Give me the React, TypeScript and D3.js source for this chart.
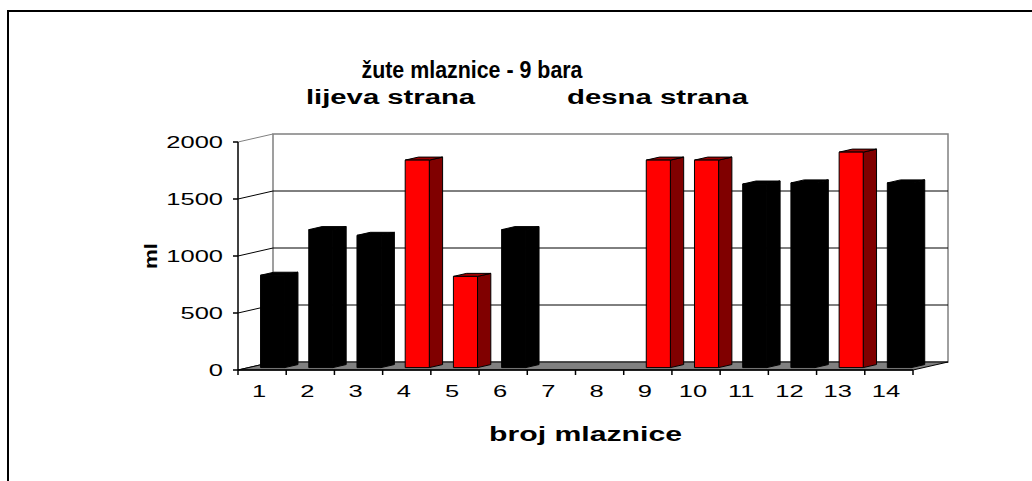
import React from "react";
import * as d3 from "d3";

const categories = ["1", "2", "3", "4", "5", "6", "7", "8", "9", "10", "11", "12", "13", "14"];
const values = [810, 1210, 1160, 1820, 800, 1210, 0, 0, 1820, 1820, 1610, 1620, 1890, 1620];
const highlighted = [false, false, false, true, true, false, false, false, true, true, false, false, true, false];
const yTicks = [0, 500, 1000, 1500, 2000];

const titleLine1 = "žute mlaznice - 9 bara";
const titleLeft = "lijeva strana";
const titleRight = "desna strana";
const xTitle = "broj mlaznice";
const yTitle = "ml";

const W = 1032;
const H = 481;

// front plane of the plot + depth offset of the back wall
const plot = { left: 238, right: 913, top: 142, bottom: 370 };
const depth = { dx: 35, dy: -8 };
const barDepth = [0.3, 0.68];

const font = "'Liberation Sans', Arial, sans-serif";

function StretchText(props: any) {
  const { x, y, sx = 1.5, anchor = "middle", size = 17, bold = false, children } = props;
  return (
    <text
      transform={`translate(${x},${y}) scale(${sx},1)`}
      textAnchor={anchor}
      fontFamily={font}
      fontSize={size}
      fontWeight={bold ? "bold" : "normal"}
      fill="#000"
    >
      {children}
    </text>
  );
}

function Bar(props: any) {
  const { x0, x1, yTop, yBase, red } = props;
  const [d0, d1] = barDepth;
  const ox = depth.dx * d0, oy = depth.dy * d0;
  const bx = depth.dx * (d1 - d0), by = depth.dy * (d1 - d0);
  const fx0 = x0 + ox, fx1 = x1 + ox;
  const ft = yTop + oy, fb = yBase + oy;
  const front = red ? "#ff0000" : "#000";
  const side = red ? "#800000" : "#000";
  const top = red ? "#a00000" : "#000";
  return (
    <g stroke="#000" strokeWidth={1} strokeLinejoin="round">
      <path d={`M${fx1},${ft} L${fx1 + bx},${ft + by} L${fx1 + bx},${fb + by} L${fx1},${fb} Z`} fill={side} />
      <path d={`M${fx0},${ft} L${fx0 + bx},${ft + by} L${fx1 + bx},${ft + by} L${fx1},${ft} Z`} fill={top} />
      <rect x={fx0} y={ft} width={fx1 - fx0} height={fb - ft} fill={front} />
    </g>
  );
}

export default function App() {
  const x = d3.scaleBand<string>().domain(categories).range([plot.left, plot.right]).padding(0);
  const y = d3.scaleLinear().domain([0, 2000]).range([plot.bottom, plot.top]);
  const bw = x.bandwidth();
  const barW = bw * 0.5;

  const bx = plot.left + depth.dx;
  const brx = plot.right + depth.dx;

  return (
    <svg width={W} height={H} style={{ position: "absolute", left: 0, top: 0, background: "#fff" }}>
      {/* outer frame */}
      <path d={`M8,${H} L8,11 L${W},11`} fill="none" stroke="#000" strokeWidth={2} />

      {/* back wall */}
      <rect x={bx} y={y(2000) + depth.dy} width={brx - bx} height={y(0) - y(2000)} fill="#fff" stroke="#808080" strokeWidth={1.5} />
      {yTicks.slice(1, -1).map((t) => (
        <line key={"g" + t} x1={bx} x2={brx} y1={y(t) + depth.dy} y2={y(t) + depth.dy} stroke="#000" strokeWidth={1} />
      ))}
      {/* side wall lines */}
      {yTicks.map((t) => (
        <line key={"s" + t} x1={plot.left} y1={y(t)} x2={bx} y2={y(t) + depth.dy} stroke={t === 2000 ? "#808080" : "#000"} strokeWidth={1} />
      ))}

      {/* floor */}
      <path
        d={`M${plot.left},${plot.bottom} L${plot.right},${plot.bottom} L${brx},${plot.bottom + depth.dy} L${bx},${plot.bottom + depth.dy} Z`}
        fill="#808080"
        stroke="#000"
        strokeWidth={1}
      />

      {/* bars */}
      {categories.map((c, i) =>
        values[i] > 0 ? (
          <Bar
            key={c}
            x0={(x(c) as number) + bw / 2 - barW / 2}
            x1={(x(c) as number) + bw / 2 + barW / 2}
            yTop={y(values[i])}
            yBase={y(0)}
            red={highlighted[i]}
          />
        ) : null
      )}

      {/* y axis */}
      <line x1={plot.left} x2={plot.left} y1={plot.top} y2={plot.bottom} stroke="#000" strokeWidth={1.5} />
      {yTicks.map((t) => (
        <g key={"yt" + t}>
          <line x1={plot.left - 5} x2={plot.left} y1={y(t)} y2={y(t)} stroke="#000" strokeWidth={1.5} />
          <StretchText x={223} y={y(t) + 6} anchor="end">{t}</StretchText>
        </g>
      ))}

      {/* x axis */}
      <line x1={plot.left} x2={plot.left} y1={plot.bottom} y2={plot.bottom + 5} stroke="#000" strokeWidth={1.5} />
      <line x1={plot.left} x2={plot.right} y1={plot.bottom} y2={plot.bottom} stroke="#000" strokeWidth={1.5} />
      {categories.map((c) => (
        <line key={"xt" + c} x1={(x(c) as number) + bw} x2={(x(c) as number) + bw} y1={plot.bottom} y2={plot.bottom + 5} stroke="#000" strokeWidth={1.5} />
      ))}
      {categories.map((c) => (
        <StretchText key={"xl" + c} x={(x(c) as number) + bw / 2 - 3} y={397}>{c}</StretchText>
      ))}

      {/* titles */}
      <text x={472} y={78} textAnchor="middle" fontFamily={font} fontSize={23} fontWeight="bold" textLength={221} lengthAdjust="spacingAndGlyphs">
        {titleLine1}
      </text>
      <text x={306} y={104} fontFamily={font} fontSize={20} fontWeight="bold" textLength={169} lengthAdjust="spacingAndGlyphs">
        {titleLeft}
      </text>
      <text x={567} y={104} fontFamily={font} fontSize={20} fontWeight="bold" textLength={181} lengthAdjust="spacingAndGlyphs">
        {titleRight}
      </text>
      <text x={489} y={441} fontFamily={font} fontSize={20} fontWeight="bold" textLength={193} lengthAdjust="spacingAndGlyphs">
        {xTitle}
      </text>
      <text transform={`translate(157,256) rotate(-90)`} textAnchor="middle" fontFamily={font} fontSize={18} fontWeight="bold" textLength={26} lengthAdjust="spacingAndGlyphs">
        {yTitle}
      </text>
    </svg>
  );
}
